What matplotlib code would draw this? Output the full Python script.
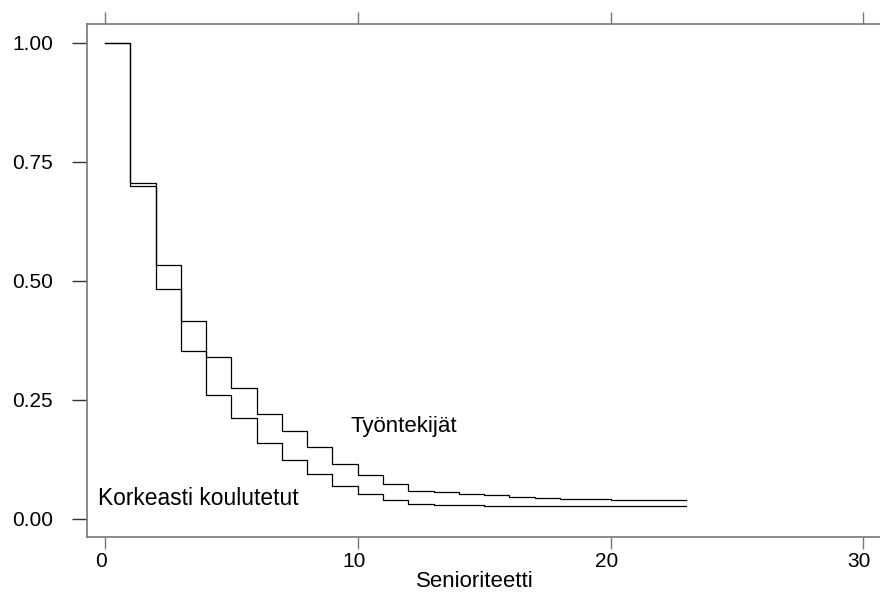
import matplotlib

matplotlib.use("Agg")

import matplotlib.pyplot as plt
import matplotlib.transforms as mtransforms

plt.rcParams["font.family"] = ["Liberation Sans", "DejaVu Sans"]

# Kaplan-Meier type survival steps
years = list(range(0, 24))
tyontekijat = [1.000, 0.705, 0.533, 0.416, 0.339, 0.274, 0.220, 0.185, 0.151, 0.114,
               0.092, 0.074, 0.059, 0.056, 0.053, 0.050, 0.046, 0.044, 0.042, 0.041,
               0.040, 0.039, 0.039, 0.039]
korkeasti = [1.000, 0.700, 0.483, 0.353, 0.261, 0.211, 0.160, 0.123, 0.093, 0.069,
             0.052, 0.039, 0.030, 0.029, 0.028, 0.027, 0.027, 0.027, 0.027, 0.027,
             0.027, 0.027, 0.027, 0.027]

x_ticks = [0, 10, 20, 30]
y_ticks = [0.0, 0.25, 0.5, 0.75, 1.0]
y_tick_labels = ["0.00", "0.25", "0.50", "0.75", "1.00"]

SPINE = "#777777"

fig = plt.figure(figsize=(8.8, 5.93), dpi=100)
ax = fig.add_axes([87 / 880, (593 - 537) / 593, 1 - 87 / 880, (537 - 24.3) / 593])

ax.step(years, tyontekijat, where="post", color="black", linewidth=0.9)
ax.step(years, korkeasti, where="post", color="black", linewidth=0.9)

ax.text(9.7, 0.183, "Työntekijät", fontsize=16, va="baseline", ha="left")
ax.text(-0.27, 0.029, "Korkeasti koulutetut", fontsize=16.4, va="baseline", ha="left")

ax.set_xlim(-0.712, 30.66)
ax.set_ylim(-0.0384, 1.0393)
ax.set_xticks(x_ticks)
ax.set_yticks(y_ticks)
ax.set_yticklabels(y_tick_labels)
ax.set_xlabel("Senioriteetti", fontsize=16)
ax.xaxis.set_label_coords(0.4897, -0.066, transform=ax.transAxes)
ax.xaxis.label.set_va("top")

for side in ["left", "top", "bottom"]:
    ax.spines[side].set_color(SPINE)
    ax.spines[side].set_linewidth(1.2)
ax.spines["right"].set_visible(False)

ax.tick_params(axis="x", which="both", top=True, labeltop=False, direction="out",
               length=8.5, width=1.0, color=SPINE, labelsize=15, pad=2)
ax.tick_params(axis="y", direction="out", length=10.5, width=1.0, color="#333333",
               labelsize=15, pad=14)

# x tick labels sit a little left of their ticks in the original
shift = mtransforms.ScaledTranslation(-4 / 100, 0, fig.dpi_scale_trans)
for lbl in ax.get_xticklabels():
    lbl.set_transform(lbl.get_transform() + shift)

fig.savefig("out.png", dpi=100)
